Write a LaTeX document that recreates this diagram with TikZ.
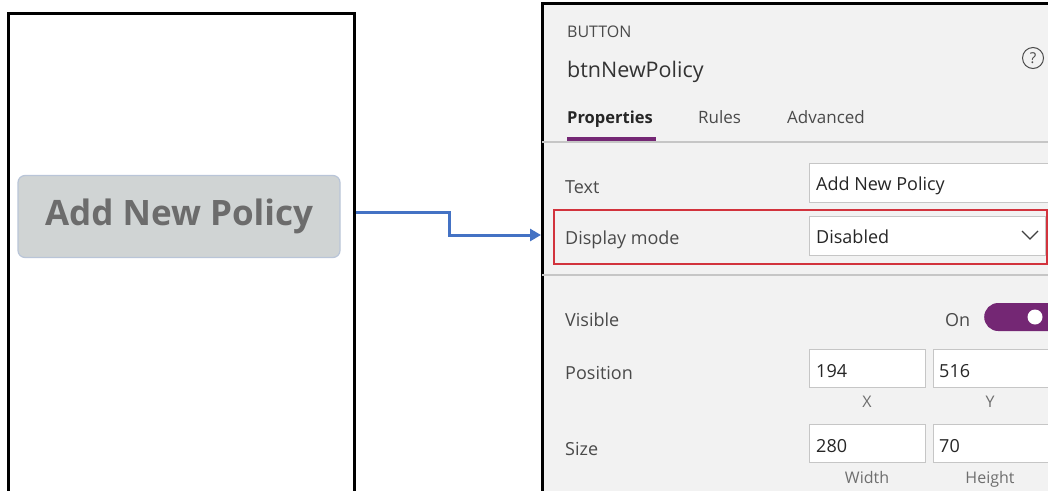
\documentclass[tikz,border=0pt]{standalone}
\usepackage{fontspec}
\setmainfont{Open Sans}
\usetikzlibrary{arrows.meta}
\definecolor{arrowblue}{HTML}{4472C4}
\definecolor{panelbg}{HTML}{F2F2F2}
\definecolor{boxline}{HTML}{C6C6C6}
\definecolor{labelgray}{HTML}{4A4A4A}
\definecolor{btnfill}{HTML}{D0D4D4}
\definecolor{btnline}{HTML}{B9C5D8}
\definecolor{btntext}{HTML}{6C6C6C}
\definecolor{pa}{HTML}{742774}
\definecolor{hlred}{HTML}{D2333D}
\tikzset{
  lbl/.style={anchor=base west, inner sep=0pt, text=labelgray, font=\fontsize{18}{20}\selectfont},
  val/.style={anchor=base west, inner sep=0pt, text=black!85, font=\fontsize{18}{20}\selectfont},
  sublbl/.style={anchor=base, inner sep=0pt, text=labelgray!80, font=\fontsize{16}{18}\selectfont},
  field/.style={draw=boxline, line width=1.2pt, fill=white},
  frame/.style={draw=black, line width=3pt},
  conn/.style={draw=arrowblue, line width=3pt, -{Triangle[length=11pt,width=12pt]}}
}
\begin{document}
\begin{tikzpicture}[x=1pt,y=-1pt]
\clip (0,0) rectangle (1048,490);
\fill[white] (0,0) rectangle (1048,490);
% left screen
\node[frame, minimum width=346pt, minimum height=490pt, inner sep=0pt] (screen) at (181,258) {};
\node[draw=btnline, line width=1.2pt, fill=btnfill, rounded corners=7pt, minimum width=322pt, minimum height=82pt, text=btntext, font=\fontsize{35}{40}\bfseries] (btn) at (179,216.5) {Add New Policy};
% right panel
\node[frame, fill=panelbg, minimum width=520pt, minimum height=500pt, anchor=north west, inner sep=0pt] (panel) at (541,2) {};
\node[anchor=base west, inner sep=0pt, text=labelgray, font=\fontsize{16}{18}\selectfont] (kind) at (567,37) {BUTTON};
\node[anchor=base west, inner sep=0pt, text=black!80, font=\fontsize{21.5}{24}\selectfont] (name) at (567,77) {btnNewPolicy};
\node[draw=labelgray, line width=1pt, circle, minimum size=21pt, inner sep=0pt, text=labelgray, font=\fontsize{15}{16}\selectfont] (help) at (1033,58) {?};
\node[anchor=base west, inner sep=0pt, text=black!85, font=\fontsize{16.5}{18}\bfseries] (tprop) at (567,123) {Properties};
\node[anchor=base west, inner sep=0pt, text=labelgray, font=\fontsize{17}{18}\selectfont] (trules) at (698,123) {Rules};
\node[anchor=base west, inner sep=0pt, text=labelgray, font=\fontsize{17}{18}\selectfont] (tadv) at (787,123) {Advanced};
\draw[boxline, line width=1.2pt] (542,142) -- (1048,142);
\draw[pa, line width=3.5pt] (567,139) -- (656,139);
% Text
\node[lbl] (ltext) at (565,193) {Text};
\node[field, anchor=north west, minimum width=250pt, minimum height=39pt, inner sep=0pt] (ftext) at (809,163) {};
\node[val] (vtext) at (816,190) {Add New Policy};
% Display mode
\node[draw=hlred, line width=2pt, anchor=north west, minimum width=493pt, minimum height=54pt, inner sep=0pt] (hl) at (553,208.5) {};
\node[lbl] (ldisp) at (565,244) {Display mode};
\node[field, anchor=north west, minimum width=236pt, minimum height=39pt, inner sep=0pt] (fdisp) at (809,216) {};
\node[val] (vdisp) at (816,243) {Disabled};
\draw[black!75, line width=1.3pt] (1022,231) -- (1030,239) -- (1038,231);
\draw[boxline, line width=1.2pt] (542,275) -- (1048,275);
% Visible
\node[lbl] (lvis) at (565,326) {Visible};
\node[lbl] (von) at (945,326) {On};
\node[fill=pa, rounded corners=14pt, anchor=west, minimum width=80pt, minimum height=28pt, inner sep=0pt] (toggle) at (984,317) {};
\fill[white] (1035,317) circle (7.5pt);
% Position
\node[lbl] (lpos) at (565,379) {Position};
\node[field, anchor=north west, minimum width=116pt, minimum height=38pt, inner sep=0pt] (fx) at (809,349) {};
\node[field, anchor=north west, minimum width=120pt, minimum height=38pt, inner sep=0pt] (fy) at (933,349) {};
\node[val] (vx) at (816,377) {194};
\node[val] (vy) at (939,377) {516};
\node[sublbl] (cx) at (867,407) {X};
\node[sublbl] (cy) at (990,407) {Y};
% Size
\node[lbl] (lsize) at (565,455) {Size};
\node[field, anchor=north west, minimum width=116pt, minimum height=38pt, inner sep=0pt] (fw) at (809,424) {};
\node[field, anchor=north west, minimum width=120pt, minimum height=38pt, inner sep=0pt] (fh) at (933,424) {};
\node[val] (vw) at (816,452) {280};
\node[val] (vh) at (939,452) {70};
\node[sublbl] (cw) at (867,483) {Width};
\node[sublbl] (ch) at (990,483) {Height};
% connector
\draw[conn] (screen.east |- 0,212) -- (449,212) |- (panel.west |- 0,235);
\end{tikzpicture}
\end{document}
